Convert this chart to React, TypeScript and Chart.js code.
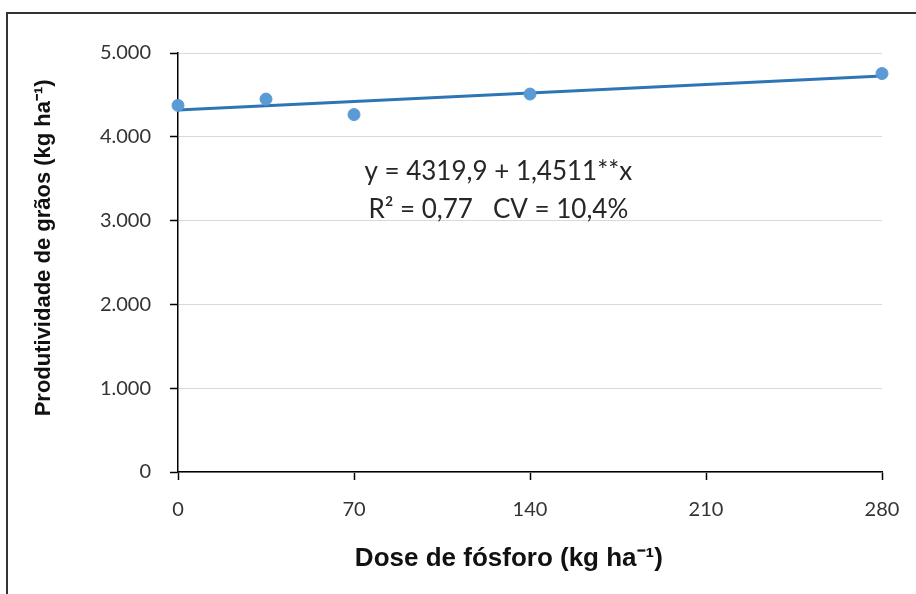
import React, { useEffect, useRef } from "react";
import { Chart, registerables } from "chart.js";

Chart.register(...registerables);

const doses = [0, 35, 70, 140, 280];
const yields = [4375, 4450, 4265, 4510, 4755];
const trendX = [0, 280];
const trendY = [4320, 4726];
const xTicks = [0, 70, 140, 210, 280];
const yTicks = [0, 1000, 2000, 3000, 4000, 5000];
const equationLines = ["y = 4319,9 + 1,4511**x", "R² = 0,77   CV = 10,4%"];
const xTitle = "Dose de fósforo (kg ha⁻¹)";
const yTitle = "Produtividade de grãos (kg ha⁻¹)";

const fmt = (v: number) => (v === 0 ? "0" : v.toLocaleString("de-DE"));

const framePlugin = {
  id: "frame",
  beforeDraw(chart: any) {
    const ctx = chart.ctx;
    ctx.save();
    ctx.fillStyle = "#ffffff";
    ctx.fillRect(0, 0, chart.width, chart.height);
    ctx.strokeStyle = "#333333";
    ctx.lineWidth = 2;
    ctx.strokeRect(7, 13, 1200, 1200);
    ctx.restore();
  },
  afterDraw(chart: any) {
    const ctx = chart.ctx;
    const { left, right, top, bottom } = chart.chartArea;
    const w = right - left;
    const h = bottom - top;
    ctx.save();
    ctx.fillStyle = "#262626";
    ctx.font = "26px Lato, 'Open Sans', sans-serif";
    ctx.textAlign = "center";
    ctx.textBaseline = "middle";
    const cx = left + w * 0.455;
    const cy = top + h * 0.284;
    equationLines.forEach((t, i) => ctx.fillText(t, cx, cy + i * 38));

    ctx.fillStyle = "#111111";
    ctx.font = "bold 26px 'Liberation Sans', Arial, sans-serif";
    ctx.fillText(xTitle, left + w * 0.47, bottom + 87);

    ctx.font = "bold 22px 'Liberation Sans', Arial, sans-serif";
    ctx.translate(44, top + h * 0.465);
    ctx.rotate(-Math.PI / 2);
    ctx.fillText(yTitle, 0, 0);
    ctx.restore();
  },
};

export default function App() {
  const ref = useRef<HTMLCanvasElement>(null);
  useEffect(() => {
    if (!ref.current) return;
    const chart = new Chart(ref.current, {
      type: "scatter",
      data: {
        datasets: [
          {
            label: "trend",
            data: trendX.map((x, i) => ({ x, y: trendY[i] })),
            showLine: true,
            borderColor: "#2E75B6",
            borderWidth: 3,
            pointRadius: 0,
            clip: false,
            order: 2,
          },
          {
            label: "obs",
            data: doses.map((x, i) => ({ x, y: yields[i] })),
            showLine: false,
            backgroundColor: "#5B9BD5",
            borderColor: "#5B9BD5",
            pointRadius: 6,
            clip: false,
            order: 1,
          },
        ],
      },
      options: {
        animation: false,
        responsive: false,
        layout: { padding: { left: 0, top: 53, right: 34, bottom: 0 } },
        plugins: { legend: { display: false }, tooltip: { enabled: false } },
        scales: {
          x: {
            type: "linear",
            min: 0,
            max: 280,
            afterBuildTicks: (s: any) => {
              s.ticks = xTicks.map((v) => ({ value: v }));
            },
            afterFit: (s: any) => {
              s.height = 122;
              s.paddingLeft = 0;
              s.paddingRight = 0;
            },
            ticks: {
              color: "#333333",
              font: { family: "Lato, 'Open Sans', sans-serif", size: 20 },
              padding: 18,
              maxRotation: 0,
              callback: (v: any) => String(v),
            },
            grid: {
              drawOnChartArea: false,
              drawTicks: true,
              tickLength: 8,
              tickColor: "#000000",
              tickWidth: 1.5,
            },
            border: { color: "#000000", width: 1.5 },
          },
          y: {
            type: "linear",
            min: 0,
            max: 5000,
            afterBuildTicks: (s: any) => {
              s.ticks = yTicks.map((v) => ({ value: v }));
            },
            afterFit: (s: any) => {
              s.width = 178;
              s.paddingTop = 0;
              s.paddingBottom = 0;
            },
            ticks: {
              color: "#333333",
              font: { family: "Lato, 'Open Sans', sans-serif", size: 20 },
              padding: 19,
              callback: (v: any) => fmt(Number(v)),
            },
            grid: {
              color: "#d9d9d9",
              lineWidth: 1,
              drawTicks: true,
              tickLength: 8,
              tickColor: "#000000",
              tickWidth: 1.5,
            },
            border: { color: "#000000", width: 1.5 },
          },
        },
      },
      plugins: [framePlugin],
    });
    return () => chart.destroy();
  }, []);
  return (
    <div style={{ position: "fixed", left: 0, top: 0, width: 916, height: 594 }}>
      <canvas ref={ref} width={916} height={594} style={{ width: 916, height: 594 }} />
    </div>
  );
}
